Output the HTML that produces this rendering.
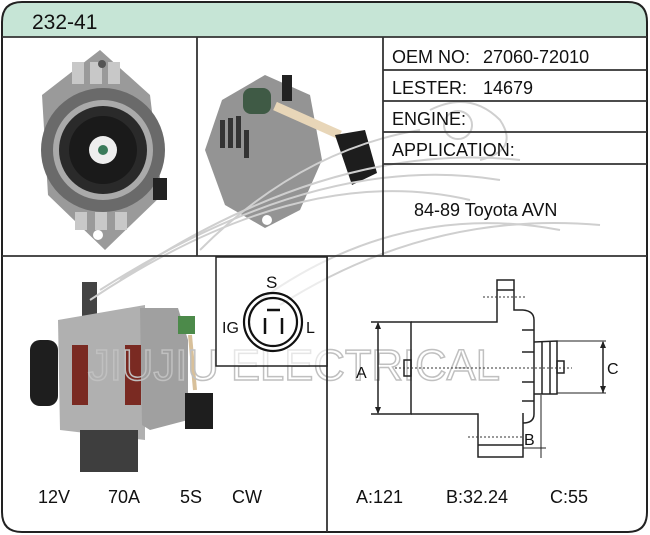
<!DOCTYPE html>
<html><head><meta charset="utf-8"><style>
html,body{margin:0;padding:0;background:#fff;}
svg{display:block;}
text{font-family:"Liberation Sans",Arial,sans-serif;fill:#111;}
</style></head><body>
<svg width="650" height="535" viewBox="0 0 650 535" xmlns="http://www.w3.org/2000/svg">
<path d="M2,37 L2,22 Q2,2 22,2 L628,2 Q647,2 647,22 L647,37 Z" fill="#c6e5d6"/>
<text x="32" y="29" font-size="21">232-41</text>
<!-- photo 1 -->
<g>
<path d="M100,50 L150,95 L162,195 L105,250 L48,195 L42,95 Z" fill="#9a9a9a"/>
<g fill="#c8c8c8"><rect x="72" y="62" width="12" height="22"/><rect x="90" y="62" width="12" height="22"/><rect x="108" y="62" width="12" height="22"/><rect x="75" y="212" width="12" height="18"/><rect x="95" y="212" width="12" height="18"/><rect x="115" y="212" width="12" height="18"/></g>
<circle cx="103" cy="150" r="62" fill="#6a6a6a"/>
<circle cx="103" cy="150" r="50" fill="#aaa"/>
<circle cx="103" cy="150" r="44" fill="#2a2a2a"/>
<circle cx="103" cy="150" r="34" fill="#1a1a1a"/>
<circle cx="103" cy="150" r="14" fill="#eee"/>
<circle cx="103" cy="150" r="5" fill="#3a7a5a"/>
<rect x="153" y="178" width="14" height="22" fill="#222"/>
<circle cx="98" cy="235" r="5" fill="#fff"/>
<circle cx="102" cy="64" r="4" fill="#555"/>
</g>
<!-- photo 2 -->
<g>
<path d="M265,75 L310,95 L322,160 L300,210 L265,228 L225,205 L205,150 L222,100 Z" fill="#949494"/>
<g fill="#333"><rect x="220" y="120" width="5" height="28"/><rect x="228" y="118" width="5" height="30"/><rect x="236" y="116" width="5" height="32"/><rect x="244" y="130" width="5" height="28"/></g>
<rect x="243" y="88" width="28" height="26" rx="8" fill="#3f5a45"/>
<rect x="282" y="75" width="10" height="26" fill="#222"/>
<path d="M275,106 L340,135" stroke="#e8d6b8" stroke-width="9"/>
<path d="M335,135 L365,130 L377,173 L352,185 Z" fill="#1d1d1d"/>
<circle cx="267" cy="220" r="5" fill="#fff"/>
</g>
<!-- photo 3 -->
<g>
<rect x="82" y="282" width="15" height="40" fill="#444"/>
<path d="M58,320 L145,305 L145,440 L60,430 Z" fill="#b0b0b0"/>
<rect x="80" y="430" width="58" height="42" fill="#3e3e3e"/>
<rect x="30" y="340" width="28" height="66" rx="10" fill="#1e1e1e"/>
<path d="M140,308 L178,308 L188,340 L188,420 L150,430 L142,425 Z" fill="#a0a0a0"/>
<rect x="178" y="316" width="17" height="18" fill="#4c8a4a"/>
<path d="M190,335 L195,390" stroke="#d8c09a" stroke-width="4"/>
<rect x="185" y="393" width="28" height="36" fill="#1e1e1e"/>
<g fill="#7a2a22"><rect x="72" y="345" width="16" height="60"/><rect x="125" y="345" width="16" height="60"/></g>
</g>
<!-- watermark arcs -->
<g fill="none" stroke="#cfcfcf" stroke-width="2">
<path d="M90,300 Q300,160 470,200"/>
<path d="M100,290 Q320,150 500,180"/>
<path d="M120,280 Q330,140 520,160"/>
<path d="M260,300 Q400,200 560,230"/>
<path d="M280,305 Q430,210 600,225"/>
<path d="M200,250 Q300,150 420,130"/>
<path d="M430,110 Q470,90 500,120 Q520,150 480,160"/>
<circle cx="458" cy="125" r="14"/>
</g>
<text x="88" y="380" font-size="44" textLength="412" lengthAdjust="spacingAndGlyphs" style="fill:none" stroke="#c0c0c0" stroke-width="1.5">JIUJIU ELECTRICAL</text>
<path d="M2,37 L2,512 Q2,532 22,532 L628,532 Q647,532 647,512 L647,22 Q647,2 628,2 L22,2 Q2,2 2,22 Z" fill="none" stroke="#222" stroke-width="2"/>
<g stroke="#333" stroke-width="1.8">
<line x1="2" y1="37" x2="647" y2="37"/>
<line x1="2" y1="256" x2="647" y2="256"/>
<line x1="197" y1="37" x2="197" y2="256"/>
<line x1="383" y1="37" x2="383" y2="256"/>
<line x1="383" y1="70" x2="647" y2="70"/>
<line x1="383" y1="101" x2="647" y2="101"/>
<line x1="383" y1="132" x2="647" y2="132"/>
<line x1="383" y1="164" x2="647" y2="164"/>
<line x1="327" y1="256" x2="327" y2="532"/>
</g>
<g font-size="18">
<text x="392" y="63">OEM NO:</text><text x="483" y="63">27060-72010</text>
<text x="392" y="94">LESTER:</text><text x="483" y="94">14679</text>
<text x="392" y="125">ENGINE:</text>
<text x="392" y="156">APPLICATION:</text>
<text x="414" y="216">84-89 Toyota AVN</text>
<text x="38" y="503">12V</text><text x="108" y="503">70A</text><text x="180" y="503">5S</text><text x="232" y="503">CW</text>
<text x="356" y="503">A:121</text><text x="446" y="503">B:32.24</text><text x="550" y="503">C:55</text>
</g>
<rect x="216" y="257" width="111" height="109" fill="#fff" fill-opacity="0.6" stroke="#222" stroke-width="1.5"/>
<text x="266" y="288" font-size="17">S</text>
<text x="222" y="333" font-size="16">IG</text>
<text x="306" y="333" font-size="16">L</text>
<circle cx="273" cy="322" r="29" fill="none" stroke="#111" stroke-width="2.2"/>
<circle cx="273" cy="322" r="24" fill="none" stroke="#111" stroke-width="2.2"/>
<g stroke="#111" stroke-width="2.5"><line x1="267" y1="310" x2="280" y2="310"/><line x1="265" y1="318" x2="265" y2="334"/><line x1="282" y1="318" x2="282" y2="334"/></g>
<g fill="none" stroke="#222" stroke-width="1.5">
<path d="M371,322 L411,322 L411,414 L371,414"/>
<path d="M411,322 L497,322 L497,280 L514,280 L514,310 L523,310 M514,290 L497,290"/>
<path d="M411,414 L478,414 L478,457 L523,457 L523,413 M478,445 L523,445"/>
<path d="M523,310 Q534,311 534,320 L534,414 Q534,423 523,423"/>
<line x1="522" y1="330" x2="534" y2="330"/><line x1="522" y1="352" x2="534" y2="352"/><line x1="522" y1="382" x2="534" y2="382"/><line x1="522" y1="401" x2="534" y2="401"/>
<path d="M534,342 L557,341 L557,394 L534,394"/>
<line x1="542" y1="342" x2="542" y2="394"/><line x1="550" y1="342" x2="550" y2="394"/>
<rect x="557" y="361" width="7" height="12"/>
<rect x="404" y="360" width="7" height="16"/>
<line x1="378" y1="323" x2="378" y2="413"/>
<line x1="603" y1="342" x2="603" y2="393"/>
<line x1="557" y1="341" x2="606" y2="341" stroke-width="1"/><line x1="557" y1="393" x2="606" y2="393" stroke-width="1"/>
<line x1="541" y1="395" x2="541" y2="458" stroke-width="1"/>
<line x1="523" y1="448" x2="546" y2="448" stroke-width="1"/>
</g>
<g fill="#222"><path d="M378,322 l-3,7 h6 Z"/><path d="M378,414 l-3,-7 h6 Z"/><path d="M603,341 l-3,7 h6 Z"/><path d="M603,393 l-3,-7 h6 Z"/></g>
<g stroke="#333" stroke-width="1" stroke-dasharray="2,2">
<line x1="395" y1="368" x2="572" y2="368"/><line x1="483" y1="297" x2="527" y2="297"/><line x1="468" y1="437" x2="523" y2="437"/>
</g>
<text x="356" y="378" font-size="16">A</text>
<text x="524" y="445" font-size="16">B</text>
<text x="607" y="374" font-size="16">C</text>
</svg>
</body></html>
